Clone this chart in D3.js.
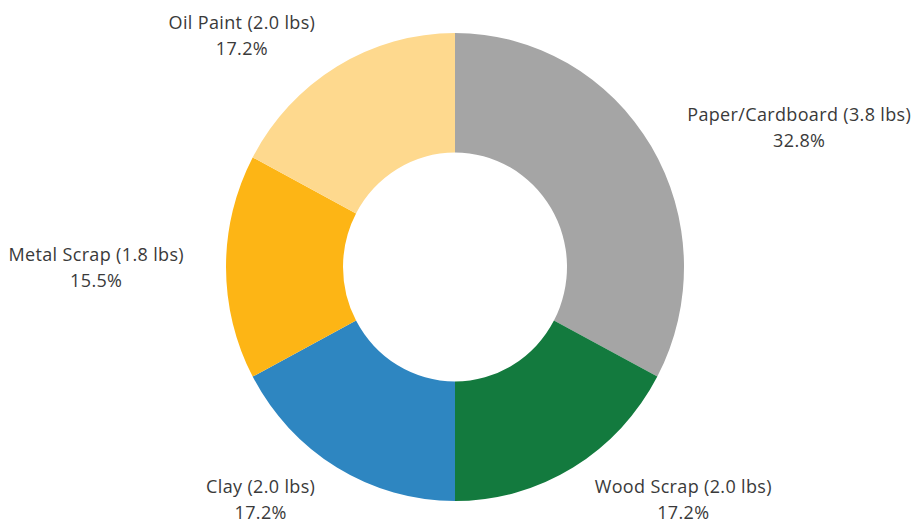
<!DOCTYPE html>
<html><head><meta charset="utf-8">
<script src="https://cdn.jsdelivr.net/npm/d3@7"></script>
<style>body{margin:0;background:#fff}svg{display:block}</style>
</head><body>
<svg id="c" width="912" height="530"></svg>
<script>
const categories = ["Paper/Cardboard", "Wood Scrap", "Clay", "Metal Scrap", "Oil Paint"];
const weights = [3.8, 2.0, 2.0, 1.8, 2.0];
const colors = ["#a5a5a5", "#137a3e", "#2e86c1", "#fdb515", "#fed98e"];

const W = 912, H = 530;
const cx = 455, cy = 267, R = 229, r0 = 112, yScale = 234 / 229, rLab = 271;
const svg = d3.select("#c");
const g = svg.append("g").attr("transform", `translate(${cx},${cy})`);
const donut = g.append("g").attr("transform", `scale(1,${yScale})`);
const total = d3.sum(weights);
const data = categories.map((c, i) => ({c, v: weights[i], col: colors[i]}));
const pie = d3.pie().value(d => d.v).sort(null);
const arc = d3.arc().innerRadius(r0).outerRadius(R);
const arcs = pie(data);
donut.selectAll("path").data(arcs).join("path").attr("d", arc).attr("fill", d => d.data.col);

const font = "'Open Sans', sans-serif";
arcs.forEach(a => {
  const m = (a.startAngle + a.endAngle) / 2;
  const x = rLab * Math.sin(m), y = -rLab * Math.cos(m);
  const right = Math.sin(m) >= 0;
  const t = g.append("text").attr("font-family", font).attr("font-size", 18)
    .attr("letter-spacing", 0.35).attr("fill", "#3a3a3a").attr("text-anchor", "middle");
  const l1 = `${a.data.c} (${a.data.v.toFixed(1)} lbs)`;
  const l2 = `${(a.data.v / total * 100).toFixed(1)}%`;
  t.append("tspan").text(l1).attr("x", 0).attr("y", -6);
  t.append("tspan").text(l2).attr("x", 0).attr("y", 20);
  const w = t.node().getBBox().width;
  const bx = right ? x + w / 2 : x - w / 2;
  t.attr("transform", `translate(${bx},${y})`);
});
</script>
</body></html>
